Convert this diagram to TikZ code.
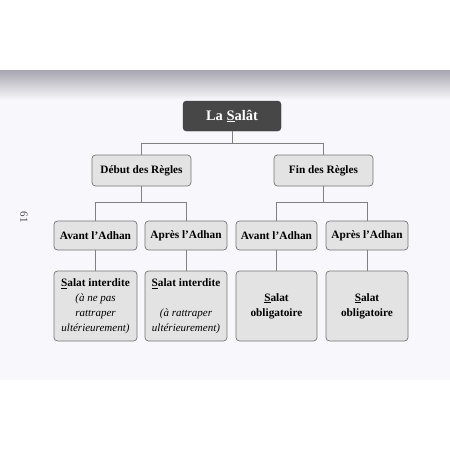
\documentclass[tikz,border=0pt]{standalone}
\usepackage{fontspec}
\setmainfont{Liberation Serif}
\definecolor{pagebg}{RGB}{248,248,252}
\definecolor{shadowtop}{RGB}{168,166,176}
\begin{document}
\begin{tikzpicture}[x=1pt,y=-1pt,
  box/.style={draw=black!55, line width=0.7pt, rounded corners=3.5pt, fill=black!11, align=center, font=\bfseries\fontsize{11.3}{15}\selectfont, inner sep=0pt},
  conn/.style={draw=black!50, line width=0.8pt}]
\useasboundingbox (0,0) rectangle (450,450);
\fill[white] (0,0) rectangle (450,450);
\fill[pagebg] (0,70) rectangle (450,380);
\shade[top color=shadowtop, bottom color=pagebg] (0,70) rectangle (450,100);
\node[rotate=-90, font=\fontsize{11}{12}\selectfont, text=black!70] (pg) at (24,217) {61};
\node[fill=black!72, draw=black!80, rounded corners=3.5pt, text=white, font=\bfseries\fontsize{14.5}{15}\selectfont, minimum width=98pt, minimum height=30pt, inner sep=0pt] (top) at (232,116) {La \underline{S}alât};
\node[box, minimum width=99pt, minimum height=31pt] (deb) at (141.5,170.5) {Début des Règles};
\node[box, minimum width=99pt, minimum height=31pt] (fin) at (323.5,170.5) {Fin des Règles};
\node[box, minimum width=83pt, minimum height=29pt] (a1) at (95.5,235.5) {Avant l’Adhan};
\node[box, minimum width=82pt, minimum height=29pt] (p1) at (186,235.5) {Après l’Adhan};
\node[box, minimum width=81pt, minimum height=29pt] (a2) at (276.5,235.5) {Avant l’Adhan};
\node[box, minimum width=82pt, minimum height=29pt] (p2) at (367,235.5) {Après l’Adhan};
\node[box, minimum width=83pt, minimum height=70pt] (s1) at (95.5,306) {\underline{S}alat interdite\\{\mdseries\itshape\fontsize{11}{15}\selectfont (à ne pas}\\{\mdseries\itshape\fontsize{11}{15}\selectfont rattraper}\\{\mdseries\itshape\fontsize{11}{15}\selectfont ultérieurement)}};
\node[box, minimum width=82pt, minimum height=70pt] (s2) at (186,306) {\underline{S}alat interdite\\~\\{\mdseries\itshape\fontsize{11}{15}\selectfont (à rattraper}\\{\mdseries\itshape\fontsize{11}{15}\selectfont ultérieurement)}};
\node[box, minimum width=81pt, minimum height=70pt] (s3) at (276.5,306) {\underline{S}alat\\obligatoire};
\node[box, minimum width=82pt, minimum height=70pt] (s4) at (367,306) {\underline{S}alat\\obligatoire};
\coordinate (b0) at (0,143);
\coordinate (b1) at (0,202);
\draw[conn] (top.south) -- (top.south |- b0);
\draw[conn] (deb.north) -- (deb.north |- b0) -- (fin.north |- b0) -- (fin.north);
\draw[conn] (deb.south) -- (deb.south |- b1);
\draw[conn] (fin.south) -- (fin.south |- b1);
\draw[conn] (a1.north) -- (a1.north |- b1) -- (p1.north |- b1) -- (p1.north);
\draw[conn] (a2.north) -- (a2.north |- b1) -- (p2.north |- b1) -- (p2.north);
\draw[conn] (a1.south) -- (s1.north);
\draw[conn] (p1.south) -- (s2.north);
\draw[conn] (a2.south) -- (s3.north);
\draw[conn] (p2.south) -- (s4.north);
\end{tikzpicture}
\end{document}
